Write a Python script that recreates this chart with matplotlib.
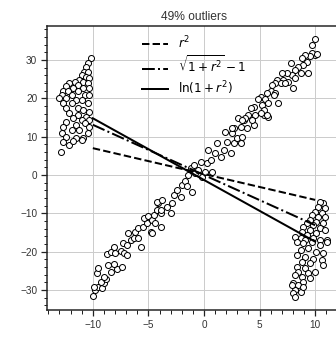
import matplotlib
matplotlib.use("Agg")
import matplotlib.pyplot as plt
from matplotlib.ticker import MultipleLocator

plt.rcParams['font.family'] = ['Liberation Sans', 'DejaVu Sans']

# inliers, roughly along y = 3x
x_in = [-10.0, -9.8, -9.5, -9.9, -9.2, -9.0, -9.3, -8.8, -9.0, -9.6, -9.5, -8.4,
        -7.8, -7.4, -8.6, -8.1, -8.7, -8.4, -8.0, -7.5, -7.2, -6.9, -8.1, -7.3,
        -6.9, -6.6, -6.3, -6.8, -5.7, -6.2, -5.9, -5.5, -5.1, -5.4, -5.0, -4.7,
        -4.5, -4.4, -4.8, -4.2, -3.9, -4.1, -4.7, -3.9, -5.9,
        -4.2, -3.8, -3.3, -3.9, -3.0, -2.9, -2.7, -2.4, -2.1, -2.0, -1.7, -1.5,
        -1.1, -1.4, -1.2, -0.9, -0.8, -0.5, -0.3, -0.2, 0.1, 0.3, 0.6, 0.7,
        0.4, 1.0, 1.2, 1.5, 1.8, 2.1, 2.4, 2.7, 2.5, 3.0, 3.3, 3.4, 1.9, 2.7,
        3.1, 3.9, 3.6, 4.5, 4.6, 5.4, 5.8,
        10.0, 9.7, 9.5, 9.1, 8.8, 9.3, 8.9, 8.5, 9.4, 8.7, 8.2, 7.8, 7.9, 8.2,
        7.5, 7.0, 7.1, 7.6, 6.6, 6.4, 6.9, 7.3, 8.0, 6.1, 6.0, 6.4, 5.7, 5.1,
        4.9, 5.5, 6.3, 6.7, 5.8, 5.2, 5.4, 4.5, 4.2, 4.0, 5.1, 5.7, 4.3, 3.7,
        3.4, 3.3, 2.5, 10.0, 9.7, 10.2]
y_in = [-31.6, -30.0, -29.3, -29.2, -29.6, -28.3, -27.9, -27.2, -26.7, -25.5, -24.4, -25.2,
        -24.6, -23.9, -23.5, -23.2, -20.6, -20.0, -20.3, -19.8, -20.4, -20.9, -18.7, -17.7,
        -18.3, -17.0, -16.5, -15.2, -18.7, -14.8, -13.9, -13.5, -12.6, -11.3, -10.7, -11.7,
        -10.4, -12.6, -14.8, -9.1, -10.0, -7.4, -15.1, -13.5, -16.5,
        -7.0, -6.4, -8.3, -9.1, -10.0, -7.4, -5.2, -3.9, -5.8, -2.6, -1.5, -3.0,
        -4.4, 0.0, 1.7, 2.6, 0.4, 1.3, 3.5, -0.4, 0.9, 3.1, 3.9, 0.9,
        6.5, 5.7, 8.3, 4.8, 6.5, 8.7, 5.7, 8.3, 10.9, 9.6, 8.3, 10.0, 11.3, 12.2,
        14.8, 12.2, 14.4, 13.1, 15.7, 15.7, 15.2,
        31.3, 31.8, 31.1, 31.3, 30.5, 29.6, 28.7, 28.3, 26.6, 26.6, 27.4, 29.2, 26.1, 25.2,
        26.6, 26.6, 24.8, 24.4, 24.8, 23.9, 23.9, 23.9, 22.6, 23.5, 21.8, 21.3, 21.3, 20.4,
        19.8, 19.8, 20.9, 18.7, 18.7, 18.3, 17.0, 17.8, 17.4, 15.7, 16.1, 15.7, 14.4, 14.8,
        14.4, 12.6, 12.2, 35.4, 33.9, 31.5]

# outliers, two clusters
x_out = [-10.2, -10.4, -10.6, -10.8, -10.4, -11.0, -10.6, -10.3, -11.2, -10.9, -11.6, -12.1,
         -10.4, -11.3, -12.4, -11.8, -10.9, -10.3, -12.7, -12.2, -11.3, -12.8, -11.9, -10.7,
         -10.3, -13.0, -12.4, -11.5, -11.0, -12.7, -11.9, -10.4, -12.4, -11.3, -10.9, -10.3,
         -12.1, -11.3, -10.6, -11.8, -11.0, -10.3, -12.4, -11.5, -10.7, -12.7, -10.3, -11.9,
         -11.2, -12.8, -10.4, -12.4, -11.5, -10.9, -12.7, -12.1, -11.0, -12.9, -11.8,
         10.7, 10.4, 10.9, 10.3, 10.0, 10.6, 9.7, 10.3, 10.9, 9.5, 10.1, 10.7, 9.3, 9.8,
         8.9, 10.4, 9.5, 10.9, 8.8, 10.1, 9.3, 8.2, 8.7, 9.8, 10.4, 11.1, 9.1,
         8.4, 8.9, 9.7, 10.4, 11.1, 8.7, 9.4, 10.1, 10.7, 8.4, 9.1, 9.8, 10.6, 8.8,
         9.5, 10.7, 8.4, 9.1, 10.0, 8.5, 9.4, 8.8, 8.2, 9.5, 8.9, 8.0, 8.5, 8.2,
         8.7, 8.0, 8.2, 8.9, 7.9]
y_out = [30.5, 29.2, 28.3, 27.0, 27.0, 26.1, 25.7, 25.2, 24.8, 24.4, 24.4, 23.9,
         23.9, 23.5, 23.1, 22.6, 22.6, 22.6, 21.8, 21.8, 21.8, 20.9, 20.9, 20.9,
         20.9, 20.0, 20.0, 19.6, 19.6, 18.7, 18.7, 18.7, 17.4, 17.4, 17.0, 16.5,
         16.1, 15.7, 15.2, 14.8, 14.4, 14.4, 13.9, 13.1, 13.5, 12.6, 12.6, 11.7,
         11.7, 10.9, 10.9, 10.0, 9.6, 9.6, 8.7, 7.8, 9.1, 6.1, 9.0,
         -7.4, -7.0, -8.7, -8.3, -9.6, -10.0, -10.4, -10.9, -10.9, -11.7, -12.2, -12.6, -12.6, -13.1,
         -13.5, -13.9, -14.4, -14.4, -14.8, -15.2, -15.7, -16.1, -16.5, -16.5, -17.0, -17.0, -17.0,
         -17.4, -17.8, -17.4, -18.3, -17.4, -19.6, -19.1, -20.0, -20.4, -20.9, -21.3, -21.8, -22.2, -22.6,
         -23.1, -23.5, -23.9, -24.4, -25.2, -25.2, -25.7, -26.6, -26.1, -27.0, -27.9, -28.3, -28.7, -30.0,
         -30.5, -30.9, -31.9, -29.2, -28.7]

# fitted lines, ends at x = -10 and x = 10
line_x = [-10, 10]
fit_l2 = [7.0, -6.5]
fit_soft = [13.1, -13.1]
fit_cauchy = [14.8, -17.4]

fig = plt.figure(figsize=(336 / 72, 337 / 72), dpi=72)
ax = fig.add_axes([0.139, 0.080, 0.875, 0.843])

ax.grid(True, color='#cccccc', lw=1, zorder=0)
ax.plot(x_in + x_out, y_in + y_out, 'o', ms=6, mfc='white', mec='black',
        mew=1, zorder=2)
ax.plot(line_x, fit_l2, 'k--', lw=2, label='$r^2$', zorder=3)
ax.plot(line_x, fit_soft, 'k-.', lw=2, label='$\\sqrt{1+r^2}-1$', zorder=3)
ax.plot(line_x, fit_cauchy, 'k-', lw=2, label='$\\ln(1+r^2)$', zorder=3)

ax.set_xlim(-14.15, 12.3)
ax.set_ylim(-35.25, 38.9)
ax.set_xticks([-10, -5, 0, 5, 10])
ax.set_yticks([-30, -20, -10, 0, 10, 20, 30])
ax.xaxis.set_minor_locator(MultipleLocator(1))
ax.yaxis.set_minor_locator(MultipleLocator(2))
ax.tick_params(which='major', length=6, width=1.25, labelsize=10,
               labelcolor='#333333', color='#222222')
ax.tick_params(which='minor', length=3.5, width=1, color='#222222')
for s in ax.spines.values():
    s.set_linewidth(1.5)
    s.set_color('#222222')

ax.set_title('49% outliers', fontsize=12, color='#333333')
ax.legend(loc='upper center', frameon=False, handlelength=2.2, fontsize=12,
          borderaxespad=0.3, labelspacing=0.3)

fig.savefig('out.png', dpi=72)
